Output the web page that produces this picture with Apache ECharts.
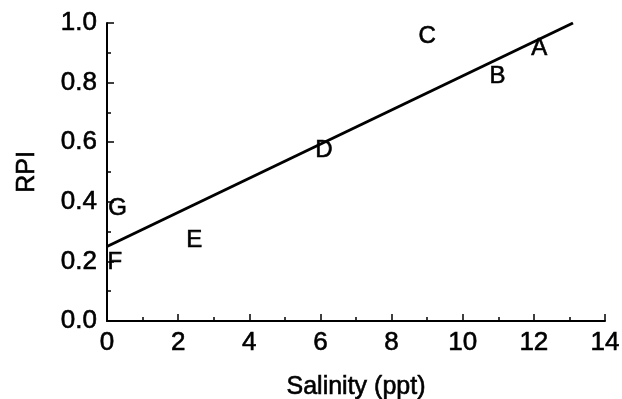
<!DOCTYPE html>
<html>
<head>
<meta charset="utf-8">
<script src="https://cdn.jsdelivr.net/npm/echarts@6/dist/echarts.min.js"></script>
<style>
  html, body { margin: 0; padding: 0; background: #fff; }
  #chart { width: 622px; height: 399px; }
</style>
</head>
<body>
<div id="chart"></div>
<script>
// Site labels and their (salinity, RPI) positions
const siteNames = ['A', 'B', 'C', 'D', 'E', 'F', 'G'];
const siteSalinity = [12.15, 10.98, 9.0, 6.1, 2.45, 0.22, 0.3];
const siteRPI = [0.915, 0.82, 0.956, 0.574, 0.272, 0.198, 0.379];

// Fitted regression line endpoints
const fitSalinity = [0, 13.1];
const fitRPI = [0.25, 1.0];

const FONT = '"Liberation Sans", Arial, sans-serif';
// slightly heavier text strokes
const INK = { textBorderColor: '#000', textBorderWidth: 0.6 };

const chart = echarts.init(document.getElementById('chart'), null, { renderer: 'canvas' });

chart.setOption({
  animation: false,
  backgroundColor: '#fff',
  grid: {
    left: 107, right: 17, top: 23, bottom: 78,
    containLabel: false,
    outerBoundsMode: 'none'
  },
  xAxis: {
    type: 'value',
    min: 0, max: 14, interval: 2,
    name: 'Salinity (ppt)',
    nameLocation: 'middle',
    nameGap: 54,
    nameTextStyle: Object.assign({ fontFamily: FONT, fontSize: 25, color: '#000' }, INK),
    axisLine: { lineStyle: { color: '#000', width: 2 } },
    axisTick: { inside: true, length: 7, lineStyle: { color: '#000', width: 1.5 } },
    minorTick: { show: true, splitNumber: 2, length: 4, lineStyle: { color: '#000', width: 1.5 } },
    splitLine: { show: false },
    axisLabel: Object.assign({ fontFamily: FONT, fontSize: 26, color: '#000', margin: 9 }, INK)
  },
  yAxis: {
    type: 'value',
    min: 0, max: 1, interval: 0.2,
    name: 'RPI',
    nameLocation: 'middle',
    nameGap: 67,
    nameTextStyle: Object.assign({ fontFamily: FONT, fontSize: 25, color: '#000' }, INK),
    axisLine: { show: true, lineStyle: { color: '#000', width: 2 } },
    axisTick: { show: true, inside: true, length: 7, lineStyle: { color: '#000', width: 1.5 } },
    minorTick: { show: true, splitNumber: 2, length: 4, lineStyle: { color: '#000', width: 1.5 } },
    splitLine: { show: false },
    axisLabel: Object.assign({
      fontFamily: FONT, fontSize: 26, color: '#000', margin: 10,
      formatter: v => v.toFixed(1)
    }, INK)
  },
  series: [
    {
      type: 'line',
      data: fitSalinity.map((x, i) => [x, fitRPI[i]]),
      symbol: 'none',
      lineStyle: { color: '#000', width: 3 },
      z: 2
    },
    {
      type: 'scatter',
      data: siteNames.map((n, i) => ({ name: n, value: [siteSalinity[i], siteRPI[i]] })),
      symbolSize: 0,
      itemStyle: { color: '#000', opacity: 1 },
      label: Object.assign({
        show: true,
        position: 'inside',
        formatter: p => p.name,
        fontFamily: FONT, fontSize: 24, color: '#000'
      }, INK),
      z: 3
    }
  ]
});
</script>
</body>
</html>
